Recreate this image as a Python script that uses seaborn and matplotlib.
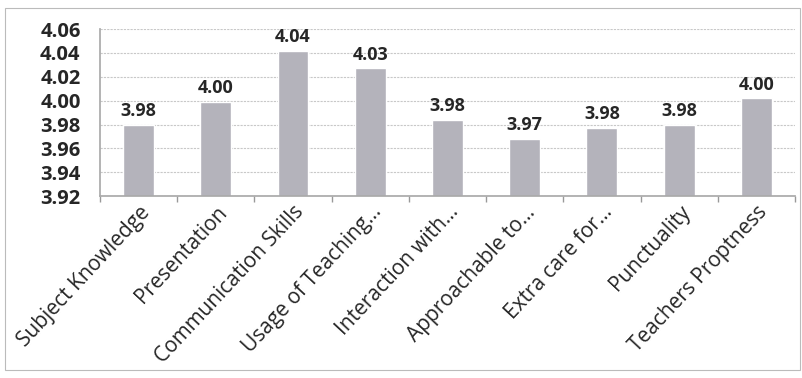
import matplotlib
matplotlib.use("Agg")
import matplotlib.pyplot as plt
import seaborn as sns
import pandas as pd
import numpy as np
from matplotlib.ticker import FixedLocator

# values
categories = ["Subject Knowledge", "Presentation", "Communication Skills",
              "Usage of Teaching...", "Interaction with...", "Approachable to...",
              "Extra care for...", "Punctuality", "Teachers Proptness"]
scores = [3.980, 3.999, 4.042, 4.027, 3.984, 3.968, 3.977, 3.980, 4.002]
y_ticks = [3.92, 3.94, 3.96, 3.98, 4.00, 4.02, 4.04, 4.06]

df = pd.DataFrame({"category": categories, "score": scores})

sns.set_theme(style="white")
plt.rcParams["font.family"] = ["Open Sans", "DejaVu Sans"]

fig = plt.figure(figsize=(8.03, 3.78), dpi=100)
ax = fig.add_axes([0.1245, 0.481, 0.8655, 0.442])

sns.barplot(data=df, x="category", y="score", ax=ax, color="#b4b3bb",
            width=0.4, saturation=1)

ax.set_ylim(3.92, 4.06)
ax.set_yticks(y_ticks)
ax.set_yticklabels([f"{t:.2f}" for t in y_ticks], fontsize=14.5, fontweight="bold")
ax.yaxis.grid(True, color="#c8c8c8", linewidth=0.8, linestyle=(0, (2, 1)))
ax.set_axisbelow(True)
ax.set_xlim(-0.5, len(categories) - 0.5)

ax.set_xticks(range(len(categories)))
ax.set_xticklabels(categories, rotation=47, ha="right", rotation_mode="anchor",
                   fontsize=15)
ax.tick_params(axis="x", length=0, pad=4)
ax.tick_params(axis="y", length=0, pad=14)
ax.xaxis.set_minor_locator(FixedLocator(np.arange(-0.5, len(categories), 1)))
ax.tick_params(axis="x", which="minor", length=4, color="#999999", bottom=True)

for s in ["top", "right"]:
    ax.spines[s].set_visible(False)
ax.spines["left"].set_color("#aaaaaa")
ax.spines["bottom"].set_color("#aaaaaa")
ax.set_xlabel("")
ax.set_ylabel("")

for i, v in enumerate(scores):
    ax.text(i, v + 0.004, f"{v:.2f}", ha="center", va="bottom",
            fontsize=13, fontweight="bold")

# outer chart frame
fig.patches.append(plt.Rectangle((0.006, 0.02), 0.99, 0.96, transform=fig.transFigure,
                                 fill=False, edgecolor="#bbbbbb", linewidth=0.8))

fig.savefig("out.png", dpi=100)
